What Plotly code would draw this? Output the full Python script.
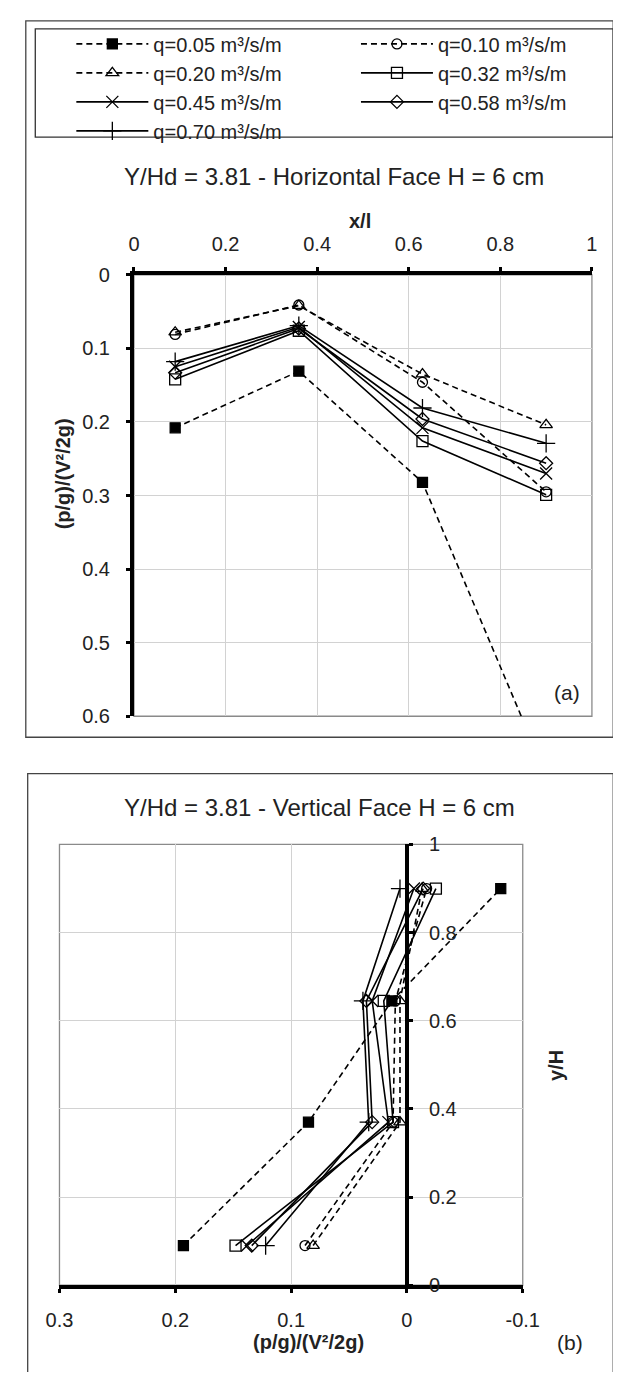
import plotly.graph_objects as go

# ---------------- data ----------------
series_names = ["q=0.05 m³/s/m", "q=0.10 m³/s/m", "q=0.20 m³/s/m", "q=0.32 m³/s/m",
                "q=0.45 m³/s/m", "q=0.58 m³/s/m", "q=0.70 m³/s/m"]
legend_column = [1, 2, 1, 2, 1, 2, 1]

# (a) horizontal face: x/l positions and pressure values
x_top = [0.09, 0.36, 0.63, 0.90]
top_q005 = [0.208, 0.131, 0.282, 0.68]
top_q010 = [0.081, 0.041, 0.146, 0.295]
top_q020 = [0.078, 0.042, 0.135, 0.204]
top_q032 = [0.142, 0.076, 0.226, 0.299]
top_q045 = [0.125, 0.071, 0.208, 0.270]
top_q058 = [0.133, 0.073, 0.196, 0.256]
top_q070 = [0.118, 0.069, 0.181, 0.229]

# (b) vertical face: y/H positions and pressure values
y_bot = [0.09, 0.37, 0.645, 0.90]
bot_q005 = [0.193, 0.085, 0.013, -0.081]
bot_q010 = [0.088, 0.012, 0.010, -0.017]
bot_q020 = [0.081, 0.006, 0.006, -0.013]
bot_q032 = [0.148, 0.012, 0.020, -0.025]
bot_q045 = [0.138, 0.016, 0.030, -0.006]
bot_q058 = [0.134, 0.030, 0.035, -0.014]
bot_q070 = [0.122, 0.033, 0.038, 0.006]

top_ticks_x = [0, 0.2, 0.4, 0.6, 0.8, 1]
top_ticks_y = [0, 0.1, 0.2, 0.3, 0.4, 0.5, 0.6]
bot_ticks_x = [0.3, 0.2, 0.1, 0, -0.1]
bot_ticks_x_text = ["0.3", "0.2", "0.1", "0", "-0.1"]
bot_ticks_y = [0, 0.2, 0.4, 0.6, 0.8, 1]

top_series = [top_q005, top_q010, top_q020, top_q032, top_q045, top_q058, top_q070]
bot_series = [bot_q005, bot_q010, bot_q020, bot_q032, bot_q045, bot_q058, bot_q070]

# ---------------- styles ----------------
symbols = ["square", "circle-open", "triangle-up-open", "square-open",
           "x-thin-open", "diamond-open", "cross-thin-open"]
sizes = [10, 10, 11, 11, 12, 10, 13]
dashes = ["6px,4px", "6px,4px", "6px,4px", "solid", "solid", "solid", "solid"]

FONT = "Liberation Sans, Arial, sans-serif"
PAGE_W, PAGE_H = 621, 1380
BODY = 8                      # default page margin around the figure
W, H = PAGE_W - 2 * BODY, PAGE_H - 2 * BODY


def px(x):
    return (x - BODY) / W


def py(y):
    return 1 - (y - BODY) / H


fig = go.Figure()

for i, name in enumerate(series_names):
    mk = dict(symbol=symbols[i], size=sizes[i], color="black",
              line=dict(color="black", width=1.3))
    fig.add_trace(go.Scatter(
        x=x_top, y=top_series[i], mode="lines+markers", name=name,
        legendgroup=name, legend="legend" if legend_column[i] == 1 else "legend2",
        line=dict(color="black", width=1.6, dash=dashes[i]),
        marker=mk, xaxis="x", yaxis="y"))
for i, name in enumerate(series_names):
    mk = dict(symbol=symbols[i], size=sizes[i], color="black",
              line=dict(color="black", width=1.3))
    fig.add_trace(go.Scatter(
        x=bot_series[i], y=y_bot, mode="lines+markers", name=name,
        legendgroup=name, showlegend=False,
        line=dict(color="black", width=1.6, dash=dashes[i]),
        marker=mk, xaxis="x2", yaxis="y2"))

tickfont = dict(family=FONT, size=20, color="#222")
grid = "#d2d2d2"
legfont = dict(family=FONT, size=20, color="#222")

fig.update_layout(
    width=W, height=H, margin=dict(l=0, r=0, t=0, b=0),
    paper_bgcolor="white", plot_bgcolor="white",
    font=dict(family=FONT, color="#222"),
    showlegend=True,
    legend=dict(orientation="v", x=px(60), xanchor="left", y=py(13.5), yanchor="top",
                itemwidth=72, font=legfont, tracegroupgap=0,
                bgcolor="rgba(0,0,0,0)", borderwidth=0, traceorder="normal"),
    legend2=dict(orientation="v", x=px(360), xanchor="left", y=py(13.5), yanchor="top",
                 itemwidth=72, font=legfont, tracegroupgap=0,
                 bgcolor="rgba(0,0,0,0)", borderwidth=0, traceorder="normal"),
    xaxis=dict(domain=[px(126), px(608.7)], range=[0, 1], side="top", anchor="y",
               tickvals=top_ticks_x, showline=True, linecolor="black", linewidth=4,
               ticks="outside", ticklen=4, tickwidth=3, tickcolor="black",
               showgrid=True, gridcolor=grid, gridwidth=1, zeroline=False,
               tickfont=tickfont, ticklabelstandoff=8),
    yaxis=dict(domain=[py(716.7), py(268)], range=[0.6, 0], anchor="x",
               tickvals=top_ticks_y, showline=True, linecolor="black", linewidth=4,
               ticks="outside", ticklen=4, tickwidth=3, tickcolor="black",
               showgrid=True, gridcolor=grid, gridwidth=1, zeroline=False,
               tickfont=tickfont, ticklabelstandoff=12),
    xaxis2=dict(domain=[px(47.5), px(535.8)], range=[0.3, -0.1], anchor="y2", side="bottom",
                tickvals=bot_ticks_x, ticktext=bot_ticks_x_text,
                showline=True, linecolor="black", linewidth=4,
                ticks="outside", ticklen=4, tickwidth=3, tickcolor="black",
                showgrid=True, gridcolor=grid, gridwidth=1, zeroline=False,
                tickfont=tickfont, ticklabelstandoff=10),
    yaxis2=dict(domain=[py(1295), py(847)], range=[0, 1], anchor="free",
                position=px(47.5) + 0.75 * (px(535.8) - px(47.5)), side="right",
                tickvals=bot_ticks_y, showline=True, linecolor="black", linewidth=4,
                ticks="outside", ticklen=4, tickwidth=3, tickcolor="black",
                showgrid=True, gridcolor=grid, gridwidth=1, zeroline=False,
                tickfont=tickfont, ticklabelstandoff=12),
)

shapes = [
    # top panel frame
    dict(type="rect", xref="paper", yref="paper", x0=px(12), x1=1.03, y0=py(738), y1=py(10),
         line=dict(color="#444", width=1.3), layer="below"),
    # legend frame
    dict(type="rect", xref="paper", yref="paper", x0=px(22), x1=1.03, y0=py(128), y1=py(18),
         line=dict(color="#333", width=1.3), layer="below"),
    # bottom panel frame
    dict(type="rect", xref="paper", yref="paper", x0=px(14), x1=1.03, y0=-0.03, y1=py(775),
         line=dict(color="#444", width=1.3), layer="below"),
    # plot-area borders
    dict(type="rect", xref="x domain", yref="y domain", x0=0, x1=1, y0=0, y1=1,
         line=dict(color="#8a8a8a", width=1.3), layer="below"),
    dict(type="rect", xref="x2 domain", yref="y2 domain", x0=0, x1=1, y0=0, y1=1,
         line=dict(color="#8a8a8a", width=1.3), layer="below"),
]
fig.update_layout(shapes=shapes)

ann = []


def add_text(text, x, y, size, bold=False, angle=0):
    ann.append(dict(text=("<b>%s</b>" % text) if bold else text, x=px(x), y=py(y),
                    xref="paper", yref="paper", showarrow=False, textangle=angle,
                    xanchor="center", yanchor="middle",
                    font=dict(family=FONT, size=size, color="#222")))


add_text("Y/Hd = 3.81 - Horizontal Face H = 6 cm", 337, 168, 24)
add_text("x/l", 364, 213, 20, bold=True)
add_text("(p/g)/(V²/2g)", 51, 470, 20, bold=True, angle=-90)
add_text("(a)", 582, 693, 21)
add_text("Y/Hd = 3.81 - Vertical Face H = 6 cm", 322, 809, 24)
add_text("y/H", 571, 1072, 20, bold=True, angle=-90)
add_text("(p/g)/(V²/2g)", 310, 1353, 20, bold=True)
add_text("(b)", 586, 1353, 21)
fig.update_layout(annotations=ann)

fig.write_html("out.html", config={"displayModeBar": False})
